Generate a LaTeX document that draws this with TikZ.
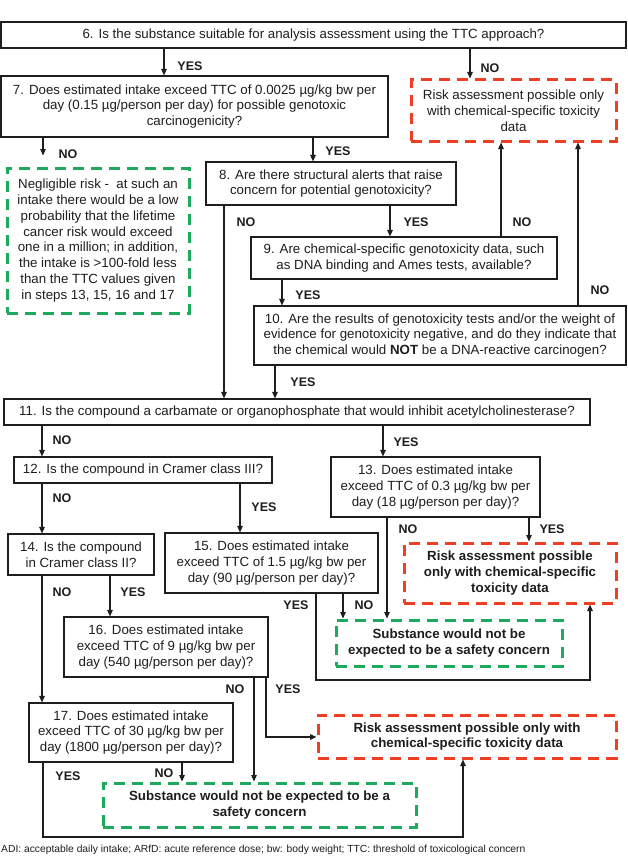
\documentclass[tikz,border=0pt]{standalone}
\usepackage{fontspec}
\setmainfont{Liberation Sans}
\usetikzlibrary{arrows.meta}
\definecolor{rdash}{RGB}{238,62,38}
\definecolor{gdash}{RGB}{30,170,92}
\definecolor{ink}{RGB}{30,30,30}
\tikzset{
  boxtext/.style={inner sep=0pt, align=center, text=ink, font=\fontsize{13.3}{15.8}\selectfont},
  qbox/.style={boxtext, draw=ink, line width=1.1pt},
  rbox/.style={boxtext, draw=rdash, line width=3pt, dash pattern=on 11pt off 7pt},
  gbox/.style={boxtext, draw=gdash, line width=3pt, dash pattern=on 11pt off 7pt},
  boldtext/.style={font=\bfseries\fontsize{13.3}{15.8}\selectfont},
  lab/.style={inner sep=0pt, text=ink, font=\bfseries\fontsize{12.5}{14}\selectfont},
  arr/.style={draw=ink, line width=1.2pt, -{Triangle[length=6.5pt,width=5.5pt]}},
}
\begin{document}
\begin{tikzpicture}[x=1pt,y=-1pt]
\fill[white] (0,0) rectangle (628,856);
\useasboundingbox (0,0) rectangle (628,856);

% question boxes
\node[qbox, minimum width=625pt, minimum height=26pt] (b6) at (313.5,35)
  {6. Is the substance suitable for analysis assessment using the TTC approach?};
\node[qbox, minimum width=387pt, minimum height=61pt] (b7) at (194.5,106.5)
  {7. Does estimated intake exceed TTC of 0.0025 µg/kg bw per\\ day (0.15 µg/person per day) for possible genotoxic\\ carcinogenicity?};
\node[rbox, minimum width=205pt, minimum height=61pt] (r1) at (513.5,110.5)
  {Risk assessment possible only\\ with chemical-specific toxicity\\ data};
\node[gbox, minimum width=182pt, minimum height=145pt] (g1) at (98,240.5)
  {Negligible risk - \ at such an\\ intake there would be a low\\ probability that the lifetime\\ cancer risk would exceed\\ one in a million; in addition,\\ the intake is >100-fold less\\ than the TTC values given\\ in steps 13, 15, 16 and 17};
\node[qbox, minimum width=250pt, minimum height=43pt] (b8) at (331,183.5)
  {8. Are there structural alerts that raise\\ concern for potential genotoxicity?};
\node[qbox, minimum width=306pt, minimum height=42pt] (b9) at (404,258)
  {9. Are chemical-specific genotoxicity data, such\\ as DNA binding and Ames tests, available?};
\node[qbox, minimum width=372pt, minimum height=59pt] (b10) at (440,335.5)
  {10. Are the results of genotoxicity tests and/or the weight of\\ evidence for genotoxicity negative, and do they indicate that\\ the chemical would \textbf{NOT} be a DNA-reactive carcinogen?};
\node[qbox, minimum width=586pt, minimum height=26pt] (b11) at (297,412)
  {11. Is the compound a carbamate or organophosphate that would inhibit acetylcholinesterase?};
\node[qbox, minimum width=258pt, minimum height=26pt] (b12) at (143,470)
  {12. Is the compound in Cramer class III?};
\node[qbox, minimum width=209pt, minimum height=60pt] (b13) at (435.5,487)
  {13. Does estimated intake\\ exceed TTC of 0.3 µg/kg bw per\\ day (18 µg/person per day)?};
\node[qbox, minimum width=146pt, minimum height=41pt] (b14) at (81,554.5)
  {14. Is the compound\\ in Cramer class II?};
\node[qbox, minimum width=213pt, minimum height=60pt] (b15) at (271.5,563)
  {15. Does estimated intake\\ exceed TTC of 1.5 µg/kg bw per\\ day (90 µg/person per day)?};
\node[rbox, boldtext, minimum width=212pt, minimum height=60pt] (r2) at (510,573)
  {Risk assessment possible\\ only with chemical-specific\\ toxicity data};
\node[gbox, boldtext, minimum width=226pt, minimum height=46pt] (g2) at (449,643)
  {Substance would not be\\ expected to be a safety concern};
\node[qbox, minimum width=204pt, minimum height=60pt] (b16) at (166,647)
  {16. Does estimated intake\\ exceed TTC of 9 µg/kg bw per\\ day (540 µg/person per day)?};
\node[qbox, minimum width=204pt, minimum height=59pt] (b17) at (131,732.5)
  {17. Does estimated intake\\ exceed TTC of 30 µg/kg bw per\\ day (1800 µg/person per day)?};
\node[rbox, boldtext, minimum width=298pt, minimum height=43pt] (r3) at (467,736.5)
  {Risk assessment possible only with\\ chemical-specific toxicity data};
\node[gbox, boldtext, minimum width=313pt, minimum height=44pt] (g3) at (259.5,805)
  {Substance would not be expected to be a\\ safety concern};

% connectors
\coordinate (g1top) at ([yshift=11pt]g1.north);
\draw[arr] (b6.south -| 164,0) -- (b7.north -| 164,0);
\draw[arr] (b6.south -| 470,0) -- (r1.north -| 470,0);
\draw[arr] (b7.south -| 43,0) -- (g1top -| 43,0);
\draw[arr] (b7.south -| 313,0) -- (b8.north -| 313,0);
\draw[arr] (b8.south -| 224,0) -- (b11.north -| 224,0);
\draw[arr] (b8.south -| 390,0) -- (b9.north -| 390,0);
\draw[arr] (b9.north -| 501,0) -- (r1.south -| 501,0);
\draw[arr] (b9.south -| 282,0) -- (b10.north -| 282,0);
\draw[arr] (b10.north -| 578,0) -- (r1.south -| 578,0);
\draw[arr] (b10.south -| 275,0) -- (b11.north -| 275,0);
\draw[arr] (b11.south -| 42,0) -- (b12.north -| 42,0);
\draw[arr] (b11.south -| 383,0) -- (b13.north -| 383,0);
\draw[arr] (b12.south -| 42,0) -- (b14.north -| 42,0);
\draw[arr] (b12.south -| 240,0) -- (b15.north -| 240,0);
\draw[arr] (b13.south -| 387,0) -- (g2.north -| 387,0);
\draw[arr] (b13.south -| 529,0) -- (r2.north -| 529,0);
\draw[arr] (b14.south -| 42,0) -- (b17.north -| 42,0);
\draw[arr] (b14.south -| 110,0) -- (b16.north -| 110,0);
\draw[arr] (b15.south -| 343,0) -- (g2.north -| 343,0);
\draw[arr] (b15.south -| 316,0) -- (316,680) -- (590,680) -- (r2.south -| 590,0);
\draw[arr] (b16.south -| 254,0) -- (g3.north -| 254,0);
\draw[arr] (b16.south -| 266,0) -- (266,737) -- (r3.west |- 0,737);
\draw[arr] (b17.south -| 182,0) -- (g3.north -| 182,0);
\draw[arr] (b17.south -| 43,0) -- (43,837) -- (463,837) -- (r3.south -| 463,0);

% labels
\node[lab] (l1) at (190,66) {YES};
\node[lab] (l2) at (490,68) {NO};
\node[lab] (l3) at (68,154) {NO};
\node[lab] (l4) at (338,151) {YES};
\node[lab] (l5) at (246,222) {NO};
\node[lab] (l6) at (416,222) {YES};
\node[lab] (l7) at (522,222) {NO};
\node[lab] (l8) at (308,295) {YES};
\node[lab] (l9) at (600,290) {NO};
\node[lab] (l10) at (303,382) {YES};
\node[lab] (l11) at (62,440) {NO};
\node[lab] (l12) at (406,442) {YES};
\node[lab] (l13) at (62,498) {NO};
\node[lab] (l14) at (264,507) {YES};
\node[lab] (l15) at (408,529) {NO};
\node[lab] (l16) at (552,529) {YES};
\node[lab] (l17) at (62,592) {NO};
\node[lab] (l18) at (133,592) {YES};
\node[lab] (l19) at (364,605) {NO};
\node[lab] (l20) at (296,605) {YES};
\node[lab] (l21) at (235,689) {NO};
\node[lab] (l22) at (288,689) {YES};
\node[lab] (l23) at (164,773) {NO};
\node[lab] (l24) at (68,776) {YES};

% footer
\node[inner sep=0pt, anchor=base west, text=ink, font=\fontsize{10.3}{12}\selectfont] (foot) at (1,852.5)
  {ADI: acceptable daily intake; ARfD: acute reference dose; bw: body weight; TTC: threshold of toxicological concern};
\end{tikzpicture}
\end{document}
